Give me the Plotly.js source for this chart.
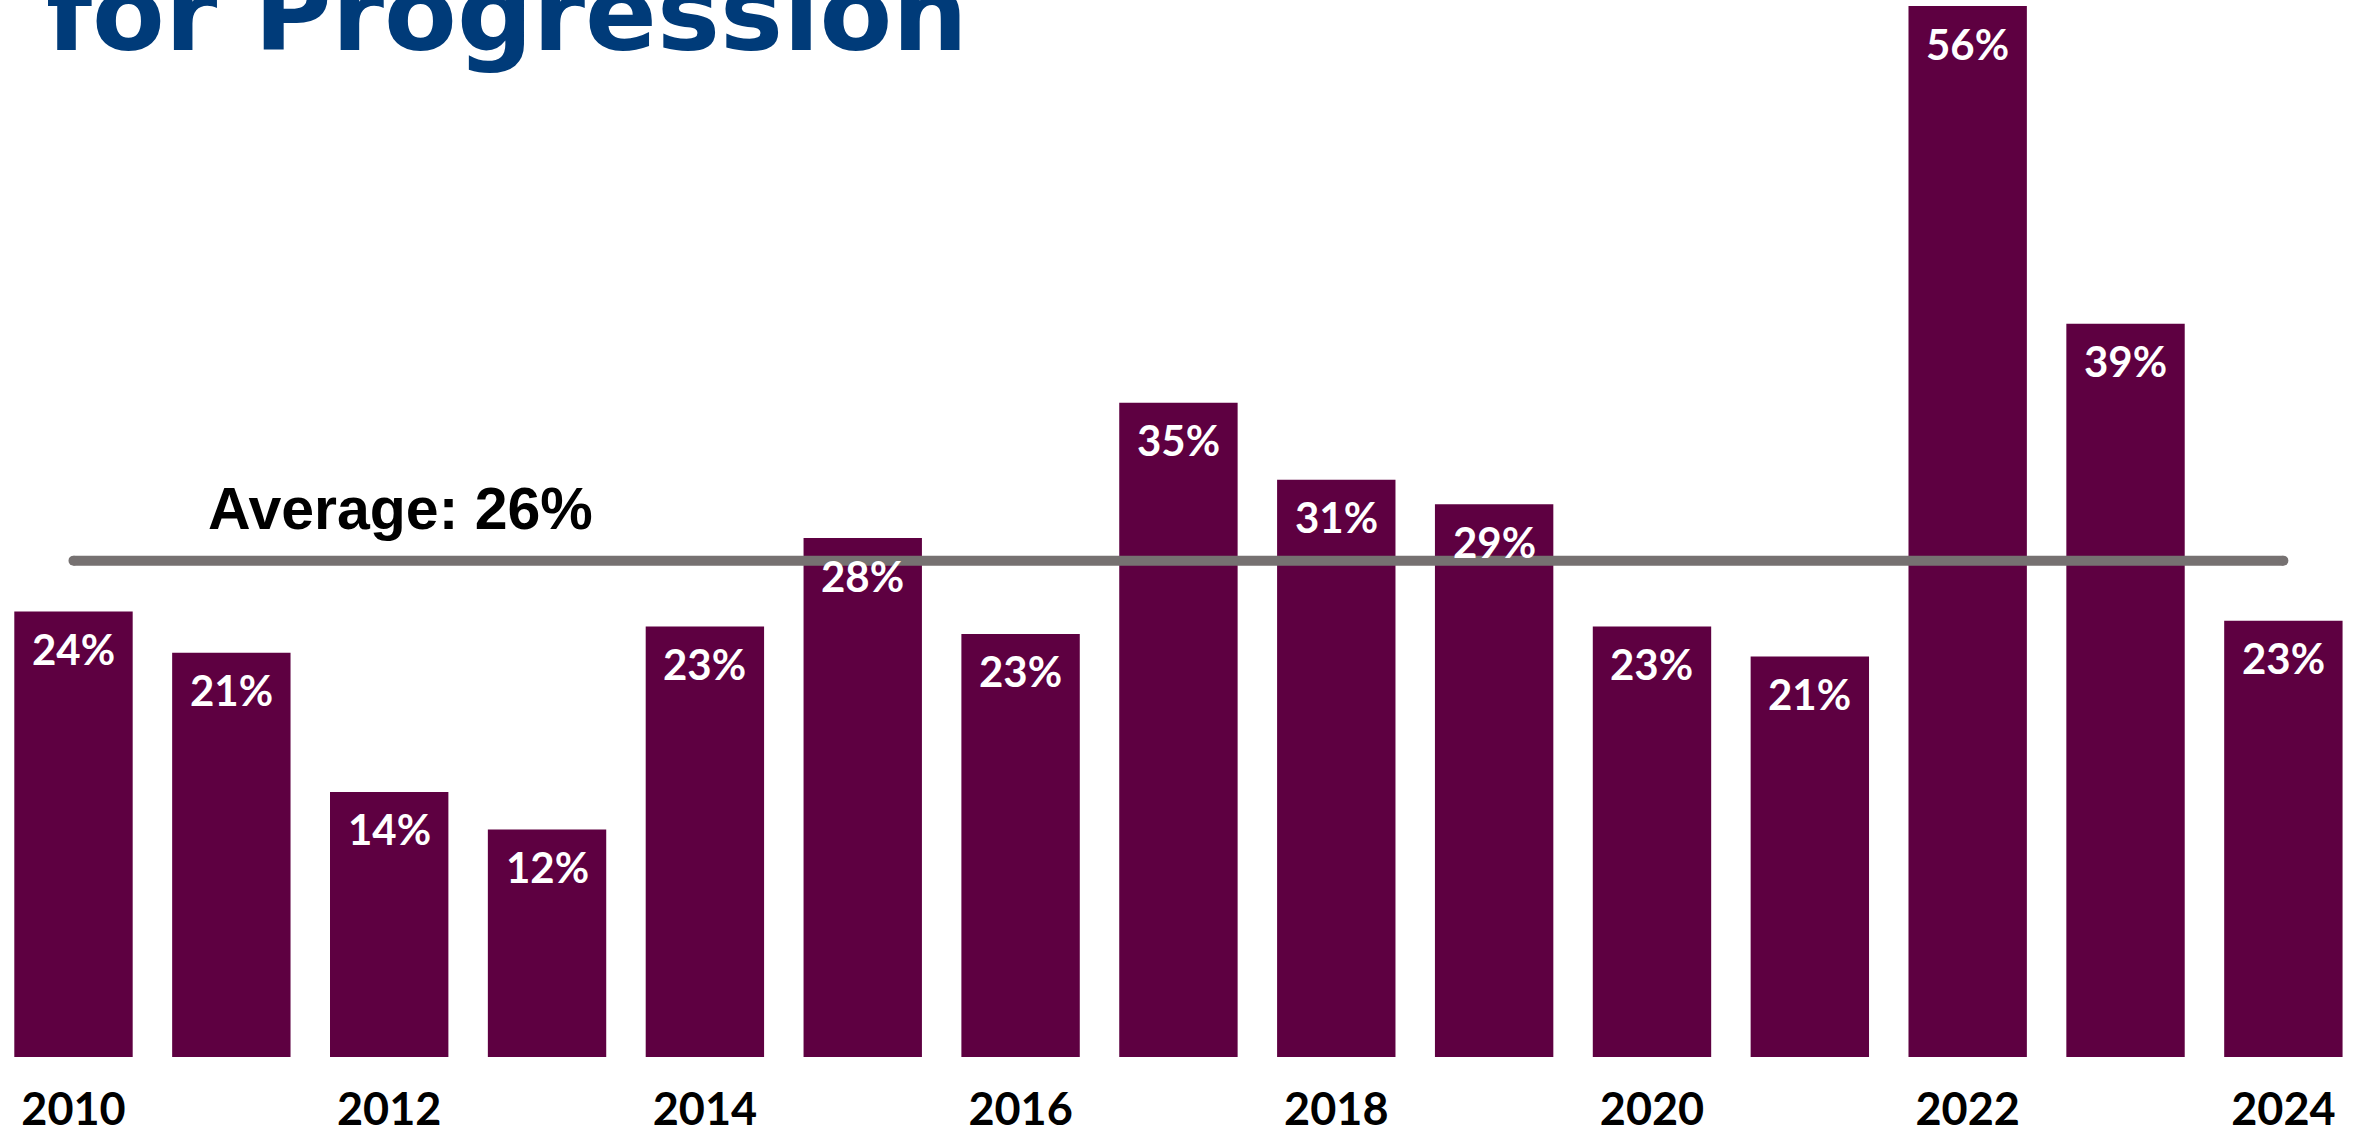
<!DOCTYPE html>
<html>
<head>
<meta charset="utf-8">
<script src="https://cdn.plot.ly/plotly-3.0.1.min.js"></script>
<style>html,body{margin:0;padding:0;background:#fff;overflow:hidden}</style>
</head>
<body>
<div id="chart" style="width:2357px;height:1137px"></div>
<script>
// ---- data ----
const years = [2010, 2011, 2012, 2013, 2014, 2015, 2016, 2017, 2018, 2019, 2020, 2021, 2022, 2023, 2024];
const rates = [23.7, 21.5, 14.1, 12.1, 22.9, 27.6, 22.5, 34.8, 30.7, 29.4, 22.9, 21.3, 55.9, 39.0, 23.2];
const rateLabels = ['24%', '21%', '14%', '12%', '23%', '28%', '23%', '35%', '31%', '29%', '23%', '21%', '56%', '39%', '23%'];
const tickYears = [2010, 2012, 2014, 2016, 2018, 2020, 2022, 2024];
const tickLabels = ['2010', '2012', '2014', '2016', '2018', '2020', '2022', '2024'];
const averageValue = 26.4;
const averageLabel = 'Average: 26%';
const titleText = 'for Progression';

// ---- styles ----
const barColor = '#5E0041';
const lineColor = '#767171';
const titleColor = '#003B79';

const barTrace = {
  type: 'bar',
  x: years,
  y: rates,
  marker: {color: barColor, line: {width: 0}},
  hoverinfo: 'none',
  textposition: 'none'
};

const avgTrace = {
  type: 'scatter',
  mode: 'lines+markers',
  x: [years[0], years[years.length - 1]],
  y: [averageValue, averageValue],
  line: {color: lineColor, width: 10},
  marker: {color: lineColor, size: 10, line: {width: 0}},
  hoverinfo: 'none'
};

const annotations = [];
for (let i = 0; i < years.length; i++) {
  annotations.push({
    x: years[i], y: rates[i], xref: 'x', yref: 'y',
    text: rateLabels[i], showarrow: false,
    xanchor: 'center', yanchor: 'middle', yshift: -37.5,
    font: {family: 'Lato, sans-serif', size: 42, color: '#ffffff', weight: 700}
  });
}
annotations.push({
  x: 2012.07, y: averageValue, xref: 'x', yref: 'y',
  text: averageLabel, showarrow: false,
  xanchor: 'center', yanchor: 'middle', yshift: 52,
  font: {family: 'Liberation Sans, Arial, sans-serif', size: 59, color: '#000000', weight: 700}
});
annotations.push({
  x: 0, y: 1, xref: 'paper', yref: 'paper',
  text: titleText, showarrow: false,
  xanchor: 'left', yanchor: 'middle', xshift: 44, yshift: -13,
  font: {family: 'DejaVu Sans, sans-serif', size: 106, color: titleColor, weight: 700}
});

const layout = {
  width: 2357, height: 1137,
  margin: {l: 0, r: 0, t: 0, b: 80, pad: 0},
  paper_bgcolor: '#ffffff', plot_bgcolor: '#ffffff',
  showlegend: false,
  bargap: 0.25,
  xaxis: {
    range: [2009.5344, 2024.4664],
    tickvals: tickYears, ticktext: tickLabels,
    showgrid: false, zeroline: false, showline: false, ticks: '',
    ticklabelstandoff: 22,
    tickfont: {family: 'Lato, sans-serif', size: 45, color: '#000000', weight: 700},
    fixedrange: true
  },
  yaxis: {range: [0, 56.22], visible: false, showgrid: false, zeroline: false, fixedrange: true},
  annotations: annotations
};

Plotly.newPlot('chart', [barTrace, avgTrace], layout, {staticPlot: true, displayModeBar: false});
</script>
</body>
</html>
